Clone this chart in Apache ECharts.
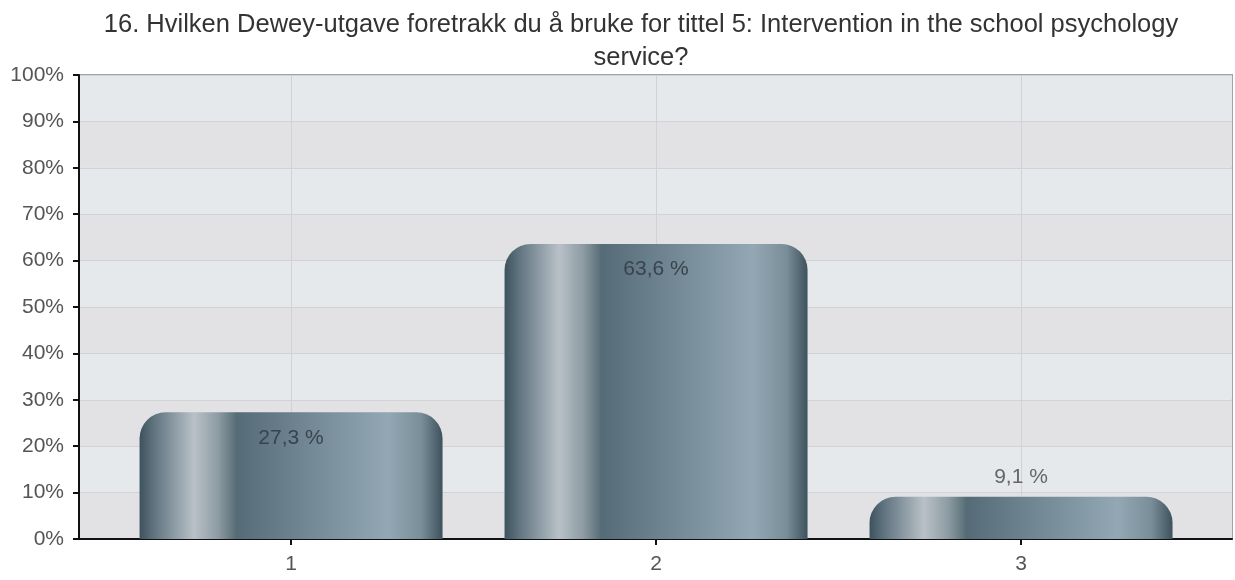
<!DOCTYPE html>
<html>
<head>
<meta charset="utf-8">
<script src="https://cdn.jsdelivr.net/npm/echarts@6/dist/echarts.min.js"></script>
<style>html,body{margin:0;padding:0;background:#fff;}#c{width:1235px;height:580px;}</style>
</head>
<body>
<div id="c"></div>
<script>
const titleText = '16. Hvilken Dewey-utgave foretrakk du å bruke for tittel 5: Intervention in the school psychology\nservice?';
const categories = ['1', '2', '3'];
const values = [27.3, 63.6, 9.1];
const catPositions = [1, 2, 3];

const chart = echarts.init(document.getElementById('c'));
const barGradient = {
  type: 'linear', x: 0, y: 0, x2: 1, y2: 0,
  colorStops: [
    { offset: 0, color: '#3e525e' },
    { offset: 0.04, color: '#5b6f7b' },
    { offset: 0.12, color: '#909ea7' },
    { offset: 0.18, color: '#b8c1c7' },
    { offset: 0.26, color: '#8d9ba3' },
    { offset: 0.305, color: '#64787f' },
    { offset: 0.32, color: '#566b78' },
    { offset: 0.55, color: '#718794' },
    { offset: 0.82, color: '#93a8b4' },
    { offset: 0.93, color: '#7a8e99' },
    { offset: 1, color: '#3e525e' }
  ]
};
const font = 'Liberation Sans';
chart.setOption({
  animation: false,
  title: {
    text: titleText, left: 636, top: 3, textAlign: 'center',
    textStyle: { fontFamily: font, fontSize: 25.5, fontWeight: 'normal', color: '#333', lineHeight: 33 }
  },
  grid: {
    left: 79, right: 3, top: 75, bottom: 41,
    show: true, backgroundColor: '#e5e8eb', borderColor: '#a3a3a3', borderWidth: 2
  },
  xAxis: {
    type: 'value', min: 0.419, max: 3.578,
    axisLine: { show: true, onZero: false, lineStyle: { color: '#111', width: 2 } },
    axisTick: { show: true, customValues: catPositions, length: 6, lineStyle: { color: '#111', width: 2 } },
    axisLabel: {
      customValues: catPositions, margin: 15,
      formatter: v => categories[Math.round(v) - 1],
      fontFamily: font, fontSize: 21, color: '#555'
    },
    splitLine: { show: false }
  },
  yAxis: {
    type: 'value', min: 0, max: 100, interval: 10,
    axisLine: { show: true, lineStyle: { color: '#111', width: 2 } },
    axisTick: { show: true, length: 6, lineStyle: { color: '#111', width: 2 } },
    axisLabel: { formatter: '{value}%', margin: 15, fontFamily: font, fontSize: 21, color: '#555' },
    splitLine: { show: true, lineStyle: { color: '#d2d2d4', width: 1 } },
    splitArea: { show: true, areaStyle: { color: ['#e2e2e4', '#e6e9ec'] } }
  },
  series: [
    {
      type: 'line', data: [], z: 1, silent: true,
      markLine: {
        z: 1, silent: true, symbol: 'none', label: { show: false },
        lineStyle: { color: '#d2d2d4', width: 1, type: 'solid' },
        data: catPositions.map(p => ({ xAxis: p }))
      }
    },
    {
      type: 'bar', z: 6, barWidth: 303,
      data: values.map((v, i) => ({
        value: [catPositions[i], v],
        label: v < 15
          ? { position: 'top', distance: 9, color: '#666' }
          : { position: 'insideTop', distance: 15, color: '#38444c' }
      })),
      itemStyle: { color: barGradient, borderRadius: [26, 26, 0, 0] },
      label: {
        show: true, fontFamily: font, fontSize: 21,
        formatter: p => p.value[1].toFixed(1).replace('.', ',') + ' %'
      }
    }
  ]
});
</script>
</body>
</html>
